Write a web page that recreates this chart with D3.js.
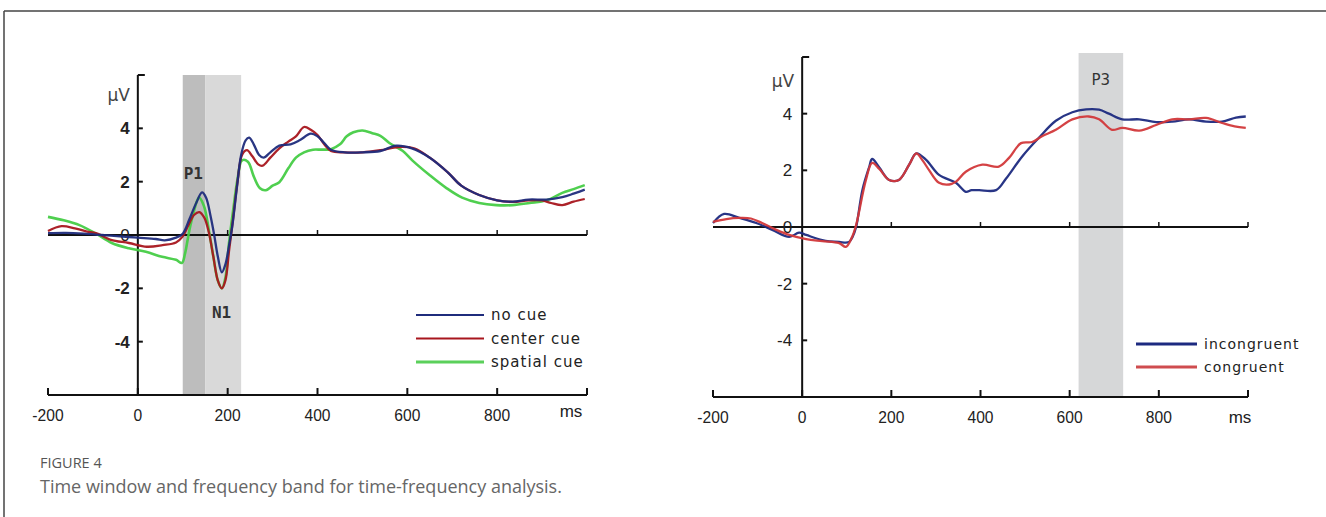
<!DOCTYPE html>
<html><head><meta charset="utf-8">
<script src="https://cdn.jsdelivr.net/npm/d3@7"></script>
<style>
body{margin:0;background:#fff;}
svg{display:block;}
</style></head>
<body>
<svg id="chart" width="1326" height="517"></svg>
<script>
// ---------- DATA ----------
const xTicks = [-200, 0, 200, 400, 600, 800];
const yTicks = [4, 2, 0, -2, -4];

const leftSeriesNames = ["no cue", "center cue", "spatial cue"];
const noCue = [[-200,0.07],[-160,0.08],[-120,0.05],[-80,0.0],[-40,-0.05],[0,-0.1],[40,-0.15],[60,-0.2],[85,-0.1],[100,0.05],[115,0.6],[130,1.2],[143,1.6],[152,1.4],[162,0.7],[170,0.0],[178,-0.8],[187,-1.4],[195,-1.1],[203,-0.4],[210,0.3],[220,1.7],[230,3.0],[240,3.55],[248,3.65],[258,3.4],[270,3.0],[280,2.9],[295,3.1],[315,3.35],[340,3.4],[360,3.55],[385,3.8],[400,3.7],[415,3.45],[430,3.2],[460,3.1],[500,3.1],[540,3.15],[575,3.35],[610,3.25],[650,2.9],[690,2.35],[720,1.85],[760,1.5],[800,1.3],[835,1.25],[870,1.33],[910,1.33],[945,1.42],[970,1.55],[995,1.7]];
const centerCue = [[-200,0.15],[-170,0.33],[-140,0.25],[-110,0.12],[-90,0.05],[-60,-0.18],[-20,-0.3],[20,-0.44],[55,-0.38],[85,-0.28],[100,-0.05],[112,0.35],[125,0.75],[137,0.86],[148,0.65],[158,0.1],[168,-0.8],[178,-1.7],[187,-2.0],[195,-1.7],[203,-0.6],[212,0.6],[222,2.0],[232,3.0],[243,3.18],[255,2.95],[268,2.65],[278,2.6],[295,2.9],[315,3.25],[335,3.5],[352,3.7],[370,4.05],[385,3.95],[400,3.75],[415,3.4],[430,3.15],[460,3.1],[500,3.1],[540,3.18],[580,3.3],[615,3.25],[650,2.9],[690,2.35],[720,1.85],[760,1.5],[800,1.3],[835,1.24],[870,1.3],[900,1.3],[920,1.2],[945,1.12],[970,1.25],[995,1.35]];
const spatialCue = [[-200,0.68],[-165,0.55],[-130,0.37],[-95,0.07],[-58,-0.3],[-20,-0.5],[18,-0.63],[54,-0.82],[85,-0.93],[98,-1.05],[105,-0.7],[115,0.2],[125,0.9],[136,1.4],[147,1.1],[158,0.2],[168,-0.8],[178,-1.7],[187,-2.0],[195,-1.6],[203,-0.3],[212,0.9],[222,2.1],[232,2.8],[245,2.75],[258,2.2],[272,1.75],[285,1.68],[300,1.85],[315,1.98],[335,2.5],[352,2.9],[370,3.1],[390,3.2],[410,3.2],[430,3.22],[450,3.4],[465,3.7],[480,3.85],[500,3.92],[522,3.82],[540,3.72],[560,3.45],[590,3.15],[611,2.8],[650,2.24],[687,1.76],[722,1.4],[760,1.2],[798,1.12],[834,1.12],[872,1.2],[910,1.3],[945,1.58],[970,1.72],[995,1.87]];

const rightSeriesNames = ["incongruent", "congruent"];
const incongruent = [[-200,0.14],[-175,0.46],[-141,0.32],[-103,0.14],[-67,-0.1],[-29,-0.35],[-7,-0.2],[9,-0.28],[45,-0.46],[83,-0.53],[105,-0.53],[113,-0.35],[121,0.0],[135,1.3],[150,2.1],[157,2.4],[173,2.1],[195,1.66],[217,1.66],[240,2.2],[256,2.6],[278,2.37],[307,1.84],[345,1.56],[367,1.24],[380,1.3],[397,1.3],[435,1.3],[457,1.7],[494,2.5],[531,3.15],[569,3.75],[606,4.05],[637,4.15],[666,4.14],[688,4.0],[718,3.8],[756,3.8],[794,3.7],[830,3.72],[868,3.8],[906,3.72],[942,3.72],[973,3.86],[995,3.9]];
const congruent = [[-200,0.18],[-170,0.28],[-141,0.32],[-115,0.3],[-90,0.14],[-58,-0.1],[-29,-0.28],[9,-0.43],[45,-0.5],[83,-0.57],[98,-0.7],[112,-0.35],[121,0.07],[143,1.66],[157,2.26],[173,2.05],[195,1.66],[217,1.66],[240,2.2],[256,2.6],[270,2.35],[285,2.0],[307,1.56],[330,1.5],[345,1.6],[367,1.95],[404,2.2],[441,2.13],[464,2.44],[491,2.96],[516,3.0],[538,3.2],[569,3.43],[606,3.8],[643,3.9],[666,3.8],[695,3.43],[718,3.5],[756,3.4],[794,3.6],[830,3.8],[868,3.8],[906,3.85],[942,3.67],[970,3.55],[995,3.5]];

const leftWindows = [[100,150],[150,230]];
const rightWindow = [620,720];
const peakLabelsLeft = [["P1",102,2.1],["N1",165,-3.1]];
const peakLabelRight = ["P3",670,5.0];

// ---------- DRAW ----------
const svg = d3.select("#chart");

// frame
svg.append("line").attr("x1",4).attr("x2",1326).attr("y1",11).attr("y2",11).attr("stroke","#444").attr("stroke-width",1.5);
svg.append("line").attr("x1",4).attr("x2",4).attr("y1",11).attr("y2",517).attr("stroke","#444").attr("stroke-width",1.5);

function panel(cfg){
  const g = svg.append("g");
  const x = d3.scaleLinear().domain([-200,1000]).range(cfg.xr);
  const y = d3.scaleLinear().domain([-6,6]).range(cfg.yr);
  // shading
  cfg.windows.forEach((w,i)=>{
    g.append("rect").attr("x",x(w[0])).attr("width",x(w[1])-x(w[0]))
     .attr("y",cfg.shadeTop).attr("height",y(-6)-cfg.shadeTop)
     .attr("fill",cfg.shadeColors[i]);
  });
  // axes
  const ax = g.append("g").attr("stroke","#111").attr("stroke-width",2).attr("fill","none");
  ax.append("line").attr("x1",x(0)).attr("x2",x(0)).attr("y1",y(6)).attr("y2",y(-6));
  ax.append("line").attr("x1",x(0)).attr("x2",x(0)+7).attr("y1",y(6)).attr("y2",y(6));
  yTicks.forEach(v=>{
    ax.append("line").attr("x1",x(0)).attr("x2",x(0)+5).attr("y1",y(v)).attr("y2",y(v));
  });
  ax.append("line").attr("x1",x(-200)).attr("x2",x(1000)).attr("y1",y(-6)).attr("y2",y(-6));
  xTicks.concat([1000]).forEach(t=>{
    ax.append("line").attr("x1",x(t)).attr("x2",x(t)).attr("y1",y(-6)).attr("y2",y(-6)-7);
  });
  ax.append("line").attr("x1",x(-200)).attr("x2",x(1000)).attr("y1",y(0)).attr("y2",y(0));
  [200,400,600,800,1000].forEach(t=>{
    ax.append("line").attr("x1",x(t)).attr("x2",x(t)).attr("y1",y(0)).attr("y2",y(0)-5).attr("stroke-width",1.5);
  });
  // x tick labels
  xTicks.forEach(t=>{
    g.append("text").attr("x",x(t)).attr("y",y(-6)+26).attr("text-anchor","middle")
     .attr("font-family","Liberation Sans, Arial, sans-serif").attr("font-size",17).attr("fill","#222")
     .attr("transform",`translate(${x(t)},0) scale(0.92,1) translate(${-x(t)},0)`)
     .text(t);
  });
  g.append("text").attr("x",x(1000)-cfg.msOff).attr("y",y(-6)+cfg.msY).attr("text-anchor","middle")
   .attr("font-family","Liberation Sans, Arial, sans-serif").attr("font-size",17).attr("fill","#222").text("ms");
  // y tick labels
  yTicks.forEach(v=>{
    g.append("text").attr("x",x(0)-cfg.ylabOff).attr("y",y(v)+6).attr("text-anchor","end")
     .attr("font-family","Liberation Sans, Arial, sans-serif").attr("font-size",17)
     .attr("font-weight",(cfg.boldY && v!==0)?"bold":"normal").attr("fill","#222").text(v);
  });
  g.append("text").attr("x",x(0)-8).attr("y",cfg.unitY).attr("text-anchor","end")
   .attr("font-family","DejaVu Sans, sans-serif").attr("font-size",17).attr("fill","#444").text("µV");
  // lines
  const line = d3.line().x(d=>x(d[0])).y(d=>y(d[1])).curve(d3.curveCatmullRom.alpha(0.5));
  cfg.series.forEach(s=>{
    g.append("path").datum(s.data).attr("d",line).attr("fill","none")
     .attr("stroke",s.color).attr("stroke-width",s.w).attr("stroke-linejoin","round").attr("opacity",0.95);
  });
  return {g,x,y};
}

const L = panel({
  xr:[48,587], yr:[395,75], windows:leftWindows, shadeColors:["#bdbdbd","#d9d9d9"], shadeTop:75,
  boldY:true, ylabOff:8, unitY:101, msOff:16, msY:22,
  series:[
    {data:spatialCue,color:"#46cc46",w:2.6},
    {data:centerCue,color:"#a8161e",w:2.3},
    {data:noCue,color:"#1f2c7c",w:2.3}
  ]
});
const R = panel({
  xr:[713,1248], yr:[397,57], windows:[rightWindow], shadeColors:["#d6d7d8"], shadeTop:53,
  boldY:false, ylabOff:10, unitY:87, msOff:8, msY:26,
  series:[
    {data:incongruent,color:"#1c2a80",w:2.3},
    {data:congruent,color:"#d2383a",w:2.3}
  ]
});

// peak labels
peakLabelsLeft.forEach(p=>{
  L.g.append("text").attr("x",L.x(p[1])).attr("y",L.y(p[2])).attr("font-family","DejaVu Sans Mono, monospace")
   .attr("font-weight","bold").attr("font-size",16).attr("fill","#333").text(p[0]);
});
R.g.append("text").attr("x",R.x(peakLabelRight[1])).attr("y",R.y(peakLabelRight[2])).attr("text-anchor","middle")
 .attr("font-family","DejaVu Sans, sans-serif").attr("font-size",15).attr("fill","#333").text(peakLabelRight[0]);

// legends
function legend(g, items, x0, x1, yStart, dy, tx, fs){
  items.forEach((it,i)=>{
    const yy = yStart + i*dy;
    g.append("line").attr("x1",x0).attr("x2",x1).attr("y1",yy).attr("y2",yy)
     .attr("stroke",it.color).attr("stroke-width",it.w);
    g.append("text").attr("x",tx).attr("y",yy+5).attr("font-family","DejaVu Sans, sans-serif")
     .attr("font-size",fs).attr("letter-spacing",1).attr("fill","#222").text(it.name);
  });
}
legend(L.g, [
  {name:leftSeriesNames[0],color:"#1f2c7c",w:1.8},
  {name:leftSeriesNames[1],color:"#a8161e",w:2.2},
  {name:leftSeriesNames[2],color:"#5bd05b",w:3.2}
], 416, 484, 315, 23.5, 491, 15);
legend(R.g, [
  {name:rightSeriesNames[0],color:"#1c2a80",w:3},
  {name:rightSeriesNames[1],color:"#cf4c4f",w:3}
], 1136, 1197, 344, 23, 1204, 14);

// caption
svg.append("text").attr("x",40).attr("y",468).attr("font-family","Open Sans, sans-serif").attr("font-size",14.5)
 .attr("fill","#555").text("FIGURE 4");
svg.append("text").attr("x",40).attr("y",493).attr("font-family","Open Sans, sans-serif").attr("font-size",18)
 .attr("fill","#666").text("Time window and frequency band for time-frequency analysis.");
</script>
</body></html>
